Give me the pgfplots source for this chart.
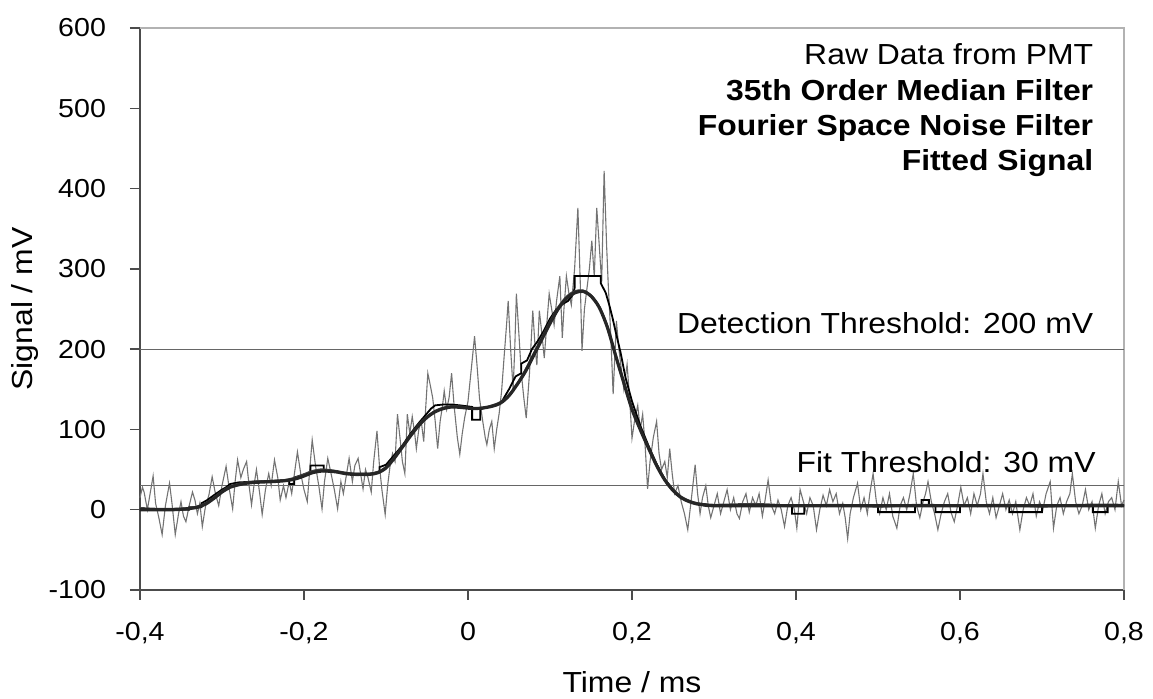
\documentclass[border=0pt]{standalone}
\usepackage{fontspec}
\setmainfont[FakeStretch=1.1]{Liberation Sans}
\usepackage{pgfplots}
\pgfplotsset{compat=1.18}

\begin{document}
\begin{tikzpicture}
\useasboundingbox (-70pt,-54.5pt) rectangle (506.5pt,295pt);
\begin{axis}[
  scale only axis,
  width=492pt, height=281pt,
  xmin=-0.4, xmax=0.8, ymin=-100, ymax=600,
  axis lines*=left,
  axis line style={black!70, line width=0.8pt},
  tick align=outside,
  major tick length=5pt,
  tick style={black!70, line width=0.7pt},
  xtick={-0.4,-0.2,0,0.2,0.4,0.6,0.8},
  xticklabels={{-0,4},{-0,2},0,{0,2},{0,4},{0,6},{0,8}},
  ytick={-100,0,100,200,300,400,500,600},
  yticklabels={-100,0,100,200,300,400,500,600},
  tick label style={font=\fontsize{13}{15}\selectfont, black},
  xticklabel style={yshift=-7.5pt},
  yticklabel style={xshift=-8.5pt},
  clip=false,
]
% frame top/right
\draw[black!30, line width=0.6pt] (axis cs:-0.4,600) -- (axis cs:0.8,600) -- (axis cs:0.8,-100);
% thresholds
\addplot[black!60, line width=0.6pt] coordinates {(-0.4,200) (0.8,200)};
\addplot[black!60, line width=0.6pt] coordinates {(-0.4,30) (0.8,30)};

% raw data
\addplot[black!55, line width=0.55pt] coordinates {
(-0.400,15) (-0.397,28) (-0.395,22) (-0.391,0) (-0.388,18) (-0.384,42) (-0.381,8) (-0.377,-10)
(-0.373,-31) (-0.369,5) (-0.364,33) (-0.361,8) (-0.357,-31) (-0.353,-5) (-0.350,10) (-0.347,-8)
(-0.344,-15) (-0.340,5) (-0.336,22) (-0.333,12) (-0.330,-5) (-0.327,8) (-0.324,-21) (-0.320,5)
(-0.316,18) (-0.312,41) (-0.308,20) (-0.304,5) (-0.300,30) (-0.295,54) (-0.291,25) (-0.287,1)
(-0.284,35) (-0.281,62) (-0.277,40) (-0.274,50) (-0.270,60) (-0.267,30) (-0.264,6) (-0.261,30)
(-0.258,50) (-0.254,20) (-0.251,-6) (-0.247,25) (-0.243,45) (-0.240,30) (-0.236,62) (-0.232,40)
(-0.229,12) (-0.225,30) (-0.222,15) (-0.218,35) (-0.215,20) (-0.211,50) (-0.208,72) (-0.204,45)
(-0.200,25) (-0.196,10) (-0.193,50) (-0.190,87) (-0.186,55) (-0.182,30) (-0.178,1) (-0.175,35)
(-0.171,64) (-0.167,45) (-0.163,25) (-0.159,1) (-0.155,35) (-0.152,20) (-0.148,45) (-0.145,64)
(-0.141,35) (-0.138,55) (-0.134,64) (-0.131,45) (-0.128,26) (-0.125,50) (-0.122,40) (-0.118,22)
(-0.115,60) (-0.111,98) (-0.108,55) (-0.105,25) (-0.101,-6) (-0.098,30) (-0.095,55) (-0.092,70)
(-0.089,60) (-0.086,119) (-0.083,90) (-0.080,60) (-0.077,45) (-0.074,119) (-0.071,95) (-0.068,116)
(-0.065,95) (-0.063,76) (-0.060,100) (-0.057,110) (-0.054,85) (-0.052,120) (-0.049,170) (-0.046,155)
(-0.043,139) (-0.040,110) (-0.037,76) (-0.034,110) (-0.031,130) (-0.029,148) (-0.026,125) (-0.023,140)
(-0.020,170) (-0.017,130) (-0.013,90) (-0.010,69) (-0.007,95) (-0.004,115) (0.000,135) (0.004,175)
(0.008,216) (0.011,180) (0.014,139) (0.018,110) (0.021,90) (0.023,81) (0.026,100) (0.029,110)
(0.032,76) (0.035,100) (0.038,120) (0.041,148) (0.044,190) (0.047,230) (0.049,260) (0.052,200)
(0.055,150) (0.057,200) (0.059,269) (0.062,220) (0.065,170) (0.068,140) (0.071,114) (0.075,170)
(0.079,248) (0.082,200) (0.084,180) (0.087,248) (0.090,220) (0.093,189) (0.096,230) (0.099,269)
(0.102,250) (0.105,230) (0.108,260) (0.112,291) (0.115,214) (0.117,250) (0.120,291) (0.123,270)
(0.126,255) (0.130,300) (0.134,376) (0.137,280) (0.139,198) (0.142,250) (0.145,275) (0.148,300)
(0.151,335) (0.154,290) (0.157,376) (0.160,330) (0.163,283) (0.166,422) (0.169,330) (0.171,281)
(0.174,220) (0.177,144) (0.179,190) (0.181,235) (0.184,200) (0.187,175) (0.190,150) (0.194,181)
(0.197,140) (0.200,89) (0.203,110) (0.207,130) (0.210,100) (0.213,119) (0.216,80) (0.219,26)
(0.222,60) (0.226,90) (0.230,110) (0.233,70) (0.236,50) (0.240,60) (0.243,40) (0.246,76)
(0.249,45) (0.252,20) (0.256,30) (0.260,10) (0.264,-5) (0.268,-25) (0.272,10) (0.277,56)
(0.280,20) (0.283,-5) (0.286,15) (0.290,30) (0.293,5) (0.296,-10)
(0.300,5) (0.304,20) (0.308,-5) (0.312,10) (0.316,25) (0.320,0) (0.324,15) (0.328,-5)
(0.331,-11) (0.335,10) (0.339,20) (0.343,-3) (0.347,15) (0.351,5) (0.355,20) (0.359,-8)
(0.362,10) (0.366,37) (0.370,5) (0.374,-5) (0.378,12) (0.382,0) (0.386,-21) (0.390,5)
(0.394,15) (0.398,0) (0.401,-23) (0.405,25) (0.409,10) (0.413,-5) (0.417,15) (0.421,5)
(0.425,-25) (0.429,0) (0.433,18) (0.437,5) (0.441,25) (0.445,10) (0.449,20) (0.453,-5)
(0.457,8) (0.460,-10) (0.463,-36) (0.466,-5) (0.470,15) (0.475,33) (0.479,0) (0.483,15)
(0.487,-5) (0.490,20) (0.494,45) (0.498,10) (0.502,-5) (0.506,15) (0.510,0) (0.514,20)
(0.518,-8) (0.523,-23) (0.527,5) (0.531,15) (0.535,0) (0.539,20) (0.543,45) (0.547,5)
(0.551,-10) (0.555,10) (0.558,20) (0.561,35) (0.565,10) (0.569,-5) (0.573,-25) (0.577,-5)
(0.581,10) (0.585,20) (0.589,-3) (0.593,-15) (0.597,5) (0.601,28) (0.605,5) (0.609,15)
(0.613,-5) (0.617,20) (0.621,5) (0.625,20) (0.628,45) (0.632,10) (0.636,-5) (0.640,15)
(0.644,-10) (0.648,5) (0.652,20) (0.656,0) (0.660,12) (0.664,-5) (0.668,10) (0.673,-25)
(0.677,0) (0.681,15) (0.685,5) (0.689,20) (0.693,-8) (0.697,10) (0.701,0) (0.705,20)
(0.710,35) (0.714,-23) (0.718,5) (0.722,15) (0.726,-5) (0.730,10) (0.734,20) (0.737,45)
(0.741,10) (0.745,-5) (0.749,5) (0.753,25) (0.757,0) (0.761,10) (0.765,-23) (0.769,5)
(0.773,20) (0.777,-5) (0.781,10) (0.785,15) (0.789,0) (0.793,35) (0.797,5) (0.800,12)
};

% 35th order median filter (stepped)
\addplot[black, line width=0.9pt] coordinates {
(-0.400,0) (-0.340,0) (-0.340,3) (-0.325,3) (-0.325,8) (-0.318,12) (-0.310,18) (-0.300,25)
(-0.295,28) (-0.290,32) (-0.280,34) (-0.260,35) (-0.240,36) (-0.218,37) (-0.218,32) (-0.212,32)
(-0.212,40) (-0.200,44) (-0.192,46) (-0.192,55) (-0.176,55) (-0.176,48) (-0.160,47) (-0.140,45)
(-0.120,45) (-0.108,47) (-0.108,53) (-0.100,56) (-0.090,68) (-0.080,80) (-0.070,95) (-0.060,108)
(-0.050,120) (-0.045,126) (-0.040,130) (-0.030,131) (-0.020,131) (-0.010,130) (0.005,128)
(0.005,112) (0.015,112) (0.015,125) (0.025,128) (0.035,130) (0.042,136) (0.050,150) (0.058,166)
(0.065,170) (0.065,182) (0.072,186) (0.078,200) (0.085,210) (0.092,222) (0.100,238) (0.108,250)
(0.115,256) (0.122,260) (0.128,268) (0.130,276) (0.130,291) (0.162,291) (0.162,282) (0.168,270)
(0.172,256) (0.176,240) (0.180,222) (0.186,196) (0.192,165) (0.200,135) (0.210,105) (0.220,80)
(0.230,57) (0.240,38) (0.250,25) (0.260,15) (0.270,10) (0.280,7) (0.300,5) (0.395,5)
(0.395,-5) (0.410,-5) (0.410,5) (0.500,5) (0.500,-3) (0.545,-3) (0.545,5) (0.553,5) (0.553,12)
(0.562,12) (0.562,5) (0.570,5) (0.570,-3) (0.600,-3) (0.600,5) (0.660,5) (0.660,-3) (0.700,-3)
(0.700,5) (0.762,5) (0.762,-3) (0.780,-3) (0.780,5) (0.800,5)
};

% Fourier space noise filter
\addplot[black!75, line width=1.1pt, smooth] coordinates {
(-0.40,2) (-0.38,1) (-0.36,1) (-0.34,2) (-0.33,4) (-0.32,8) (-0.31,15) (-0.30,23)
(-0.29,29) (-0.28,32) (-0.27,34) (-0.26,35) (-0.25,35) (-0.24,35.5) (-0.23,36) (-0.22,37.5)
(-0.21,40) (-0.20,44) (-0.19,48) (-0.18,50) (-0.17,49.5) (-0.16,48) (-0.15,46) (-0.14,44.5)
(-0.13,44) (-0.12,44.5) (-0.11,47) (-0.10,53) (-0.09,65) (-0.08,79) (-0.07,93) (-0.06,106)
(-0.05,116) (-0.04,123) (-0.03,127) (-0.02,129) (-0.01,128.5) (0.00,127) (0.01,126) (0.02,127)
(0.03,130) (0.04,134) (0.05,143) (0.06,157) (0.07,174) (0.08,194) (0.09,214) (0.10,234)
(0.11,252) (0.12,265) (0.13,272) (0.14,273) (0.15,267) (0.16,253) (0.17,228) (0.18,193)
(0.19,159) (0.20,126) (0.21,100) (0.22,77) (0.23,56) (0.24,38) (0.25,25) (0.26,16)
(0.27,11) (0.28,8) (0.30,6) (0.35,7) (0.40,5) (0.45,6) (0.50,4) (0.55,6) (0.60,5) (0.65,6)
(0.70,4) (0.75,6) (0.80,6)
};

% Fitted signal
\addplot[black!85, line width=1.6pt, smooth] coordinates {
(-0.40,0) (-0.38,0) (-0.36,0) (-0.35,0.5) (-0.34,1.5) (-0.33,3) (-0.32,7) (-0.31,14)
(-0.30,22) (-0.29,28) (-0.28,31) (-0.27,33) (-0.26,34) (-0.25,34.5) (-0.24,35) (-0.23,35.5)
(-0.22,36.5) (-0.21,38.5) (-0.20,42) (-0.19,46) (-0.18,48) (-0.17,48) (-0.16,47) (-0.15,45)
(-0.14,44) (-0.13,44) (-0.12,44) (-0.11,46) (-0.10,52) (-0.09,64) (-0.08,78) (-0.07,92)
(-0.06,105) (-0.05,115) (-0.04,122) (-0.03,126) (-0.02,128) (-0.01,127.5) (0.00,126.5) (0.01,126)
(0.02,127) (0.03,129) (0.04,133) (0.05,142) (0.06,156) (0.07,172) (0.08,192) (0.09,212)
(0.10,232) (0.11,250) (0.12,263) (0.13,270) (0.14,272) (0.15,266) (0.16,252) (0.17,227)
(0.18,192) (0.19,158) (0.20,125) (0.21,100) (0.22,77) (0.23,55) (0.24,37) (0.25,24)
(0.26,15) (0.27,10) (0.28,7) (0.29,6) (0.30,5) (0.40,5) (0.50,5) (0.60,5) (0.70,5) (0.80,5)
};

% annotations
\node[anchor=base east, font=\fontsize{14.5}{16}\selectfont] at (axis cs:0.771,554) {Raw Data from PMT};
\node[anchor=base east, font=\fontsize{14.5}{16}\selectfont\bfseries] at (axis cs:0.771,510) {35th Order Median Filter};
\node[anchor=base east, font=\fontsize{14.5}{16}\selectfont\bfseries] at (axis cs:0.771,466) {Fourier Space Noise Filter};
\node[anchor=base east, font=\fontsize{14.5}{16}\selectfont\bfseries] at (axis cs:0.771,422) {Fitted Signal};
\node[anchor=base east, font=\fontsize{14.5}{16}\selectfont] at (axis cs:0.771,219) {Detection Threshold: 200 mV};
\node[anchor=base east, font=\fontsize{14.5}{16}\selectfont] at (axis cs:0.774,46) {Fit Threshold: 30 mV};

% axis labels
\node[rotate=90, anchor=center, font=\fontsize{14.5}{16}\selectfont] at ([xshift=-57.5pt]axis description cs:0,0.5) {Signal / mV};
\node[anchor=base, font=\fontsize{14.5}{16}\selectfont] at ([yshift=-51.5pt]axis description cs:0.5,0) {Time / ms};
\end{axis}
\end{tikzpicture}
\end{document}
